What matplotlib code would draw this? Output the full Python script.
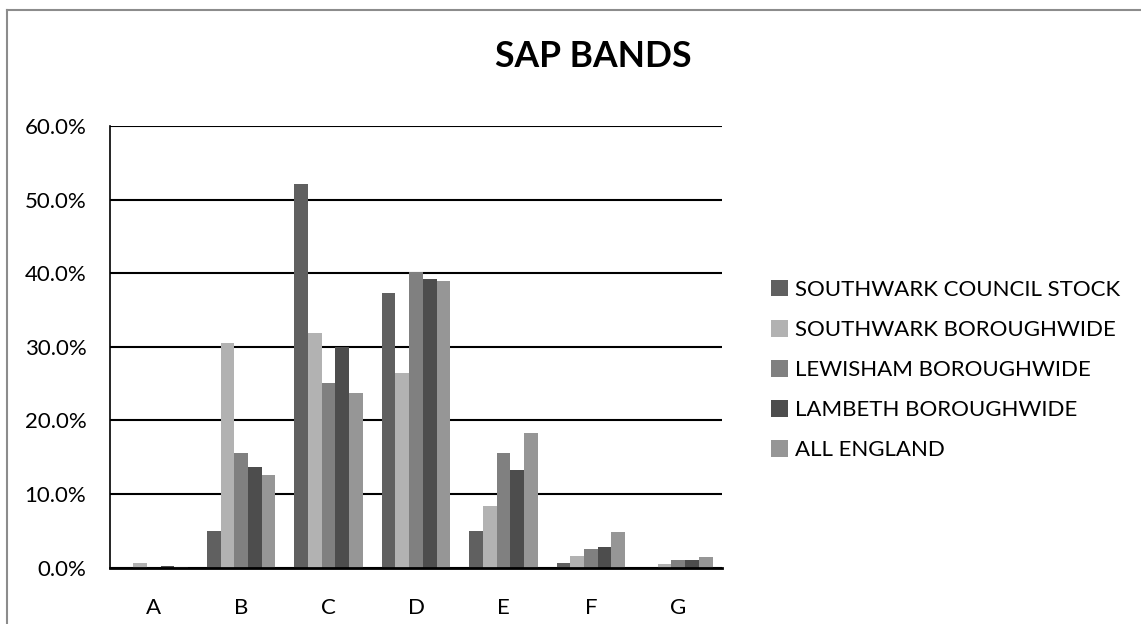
import matplotlib
matplotlib.use("Agg")
from matplotlib import pyplot as plt
from matplotlib.lines import Line2D
import numpy as np

bands = ["A", "B", "C", "D", "E", "F", "G"]
series_names = [
    "SOUTHWARK COUNCIL STOCK",
    "SOUTHWARK BOROUGHWIDE",
    "LEWISHAM BOROUGHWIDE",
    "LAMBETH BOROUGHWIDE",
    "ALL ENGLAND",
]
southwark_council = [0.0, 5.0, 52.1, 37.3, 5.0, 0.6, 0.0]
southwark_boroughwide = [0.7, 30.5, 31.9, 26.5, 8.4, 1.6, 0.5]
lewisham_boroughwide = [0.0, 15.6, 25.1, 40.1, 15.6, 2.5, 1.0]
lambeth_boroughwide = [0.2, 13.7, 30.0, 39.2, 13.3, 2.8, 1.0]
all_england = [0.1, 12.6, 23.7, 38.9, 18.3, 4.9, 1.4]
colours = ["#606060", "#b2b2b2", "#808080", "#4d4d4d", "#969696"]

plt.rcParams["font.family"] = ["Lato", "DejaVu Sans"]

fig = plt.figure(figsize=(11.41, 6.24), dpi=100)
ax = fig.add_axes([110 / 1141, 56.3 / 624, 612 / 1141, 441.7 / 624])

series = [southwark_council, southwark_boroughwide, lewisham_boroughwide,
          lambeth_boroughwide, all_england]
x = np.arange(len(bands))
width = 0.157
for i, (vals, name, col) in enumerate(zip(series, series_names, colours)):
    ax.bar(x + (i - 2) * width, vals, width, color=col, label=name, zorder=3)

ax.set_xlim(-0.5, len(bands) - 0.5)
ax.set_ylim(0, 60)
ax.set_yticks(np.arange(0, 61, 10))
ax.set_yticklabels(["%.1f%%" % v for v in np.arange(0, 61, 10)], fontsize=16)
ax.set_xticks(x)
ax.set_xticklabels(bands, fontsize=16)
ax.tick_params(axis="both", length=0)
ax.tick_params(axis="x", pad=22)
ax.tick_params(axis="y", pad=17)
ax.yaxis.grid(True, color="black", linewidth=1.5, zorder=1)
for s in ["top", "right"]:
    ax.spines[s].set_visible(False)
ax.spines["left"].set_linewidth(1.2)
ax.spines["bottom"].set_linewidth(2)
ax.spines["bottom"].set_zorder(4)

fig.text(0.52, 0.91, "SAP BANDS", fontsize=25.6, fontweight="bold",
         ha="center", va="center")

fig.legend(loc="center left", bbox_to_anchor=(762 / 1141, 1 - 370 / 624),
           frameon=False, fontsize=16, handlelength=0.78, handleheight=0.78,
           handletextpad=0.32, labelspacing=0.9, borderaxespad=0)

# chart frame
fig.add_artist(Line2D([7 / 1141, 7 / 1141], [0, 1 - 10 / 624],
                      transform=fig.transFigure, color="#8c8c8c", linewidth=1.5))
fig.add_artist(Line2D([7 / 1141, 1], [1 - 10 / 624, 1 - 10 / 624],
                      transform=fig.transFigure, color="#8c8c8c", linewidth=1.5))

fig.savefig("out.png", dpi=100)
